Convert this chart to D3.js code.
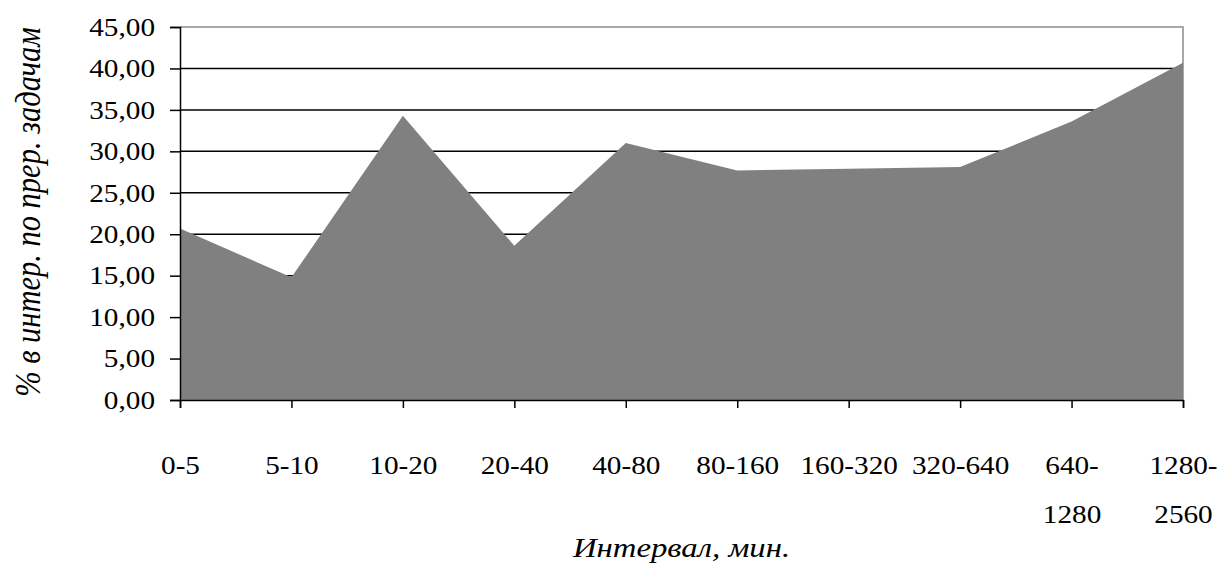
<!DOCTYPE html>
<html>
<head>
<meta charset="utf-8">
<script src="https://cdn.jsdelivr.net/npm/d3@7"></script>
<style>
  html, body { margin: 0; padding: 0; background: #fff; }
  svg { display: block; }
  text { font-family: "Liberation Serif", "Times New Roman", serif; fill: #000; }
</style>
</head>
<body>
<svg id="chart" width="1221" height="579"></svg>
<script>
// Share of interrupted tasks (%) by interval, minutes
const categories = ["0-5", "5-10", "10-20", "20-40", "40-80", "80-160", "160-320", "320-640", "640-1280", "1280-2560"];
const shares = [20.7, 14.8, 34.3, 18.6, 31.0, 27.7, 27.9, 28.1, 33.6, 40.7];
const yTicks = [0, 5, 10, 15, 20, 25, 30, 35, 40, 45];
// Long labels wrap onto a second line after the hyphen
const tickLines = {"640-1280": ["640-", "1280"], "1280-2560": ["1280-", "2560"]};

const xTitle = "Интервал, мин.";
const yTitle = "% в интер. по прер. задачам";

const W = 1221, H = 579;
const margin = {left: 180, right: 38, top: 27, bottom: 179};
const SX = 1.17; // horizontal stretch of the glyphs

const svg = d3.select("#chart");
const x = d3.scalePoint().domain(categories).range([margin.left, W - margin.right]);
const y = d3.scaleLinear().domain([0, 45]).range([H - margin.bottom, margin.top]);

const fmt = v => d3.format(".2f")(v).replace(".", ",");

// horizontal gridlines (under the area)
svg.append("g").selectAll("line").data(yTicks.filter(t => t > 0 && t < 45)).join("line")
  .attr("x1", margin.left).attr("x2", W - margin.right)
  .attr("y1", d => y(d)).attr("y2", d => y(d))
  .attr("stroke", "#000").attr("stroke-width", 1.5);

// plot frame top/right
svg.append("path")
  .attr("d", `M${margin.left},${y(45)}H${W - margin.right}V${y(0)}`)
  .attr("fill", "none").attr("stroke", "#8c8c8c").attr("stroke-width", 1.5);

// area
const area = d3.area().x((d, i) => x(categories[i])).y0(y(0)).y1(d => y(d));
svg.append("path").datum(shares).attr("d", area).attr("fill", "#808080");

// y axis
const yAxis = svg.append("g").attr("transform", `translate(${margin.left},0)`)
  .call(d3.axisLeft(y).tickValues(yTicks).tickSize(10).tickPadding(0).tickFormat(fmt));
yAxis.select(".domain").attr("stroke", "#000").attr("stroke-width", 1.5);
yAxis.selectAll(".tick line").attr("stroke", "#000").attr("stroke-width", 1.5);
yAxis.selectAll(".tick text").remove();
yAxis.selectAll(".tick").append("text")
  .attr("text-anchor", "end").attr("dominant-baseline", "central")
  .attr("font-size", 25)
  .attr("transform", `translate(-25,0) scale(${SX},1)`)
  .text(d => fmt(d));

// x axis
const xAxis = svg.append("g").attr("transform", `translate(0,${y(0)})`)
  .call(d3.axisBottom(x).tickSize(8).tickFormat(""));
xAxis.select(".domain").attr("stroke", "#000").attr("stroke-width", 1.5);
xAxis.selectAll(".tick line").attr("stroke", "#000").attr("stroke-width", 1.5);
xAxis.selectAll(".tick").each(function(d) {
  const lines = tickLines[d] || [d];
  const t = d3.select(this).append("text")
    .attr("text-anchor", "middle").attr("font-size", 25)
    .attr("transform", `translate(0,74) scale(${SX},1)`);
  lines.forEach((s, i) => t.append("tspan").attr("x", 0).attr("dy", i === 0 ? 0 : 49).text(s));
});

// axis titles
svg.append("text")
  .attr("text-anchor", "middle").attr("font-size", 28).attr("font-style", "italic")
  .attr("transform", `translate(${(margin.left + W - margin.right) / 2},557) scale(${SX},1)`)
  .text(xTitle);
svg.append("text")
  .attr("text-anchor", "middle").attr("font-size", 30.5).attr("font-style", "italic")
  .attr("transform", `translate(40,212) scale(${SX},1) rotate(-90)`)
  .text(yTitle);
</script>
</body>
</html>
